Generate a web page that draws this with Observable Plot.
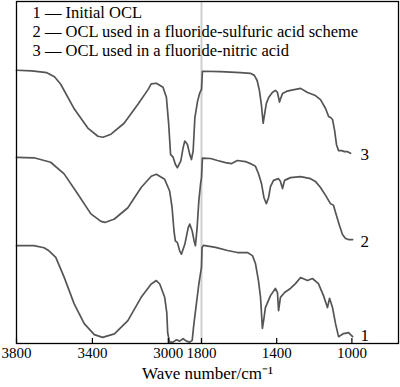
<!DOCTYPE html>
<html><head><meta charset="utf-8">
<script src="https://cdn.jsdelivr.net/npm/d3@7"></script>
<script src="https://cdn.jsdelivr.net/npm/@observablehq/plot@0.6"></script>
<style>body{margin:0;background:#fff} #chart{width:400px;height:387px}</style>
</head><body><div id="chart"></div>
<script>
// Curve 3 – OCL used in a fluoride-nitric acid scheme
const wn3 = [3800,3720,3640,3600,3567,3498,3424,3371,3344,3302,3233,3159,3106,3090,3063,3028,3010,2998,2988,2975,2963,2952,2934,2922,2913,2899,2887,2878,2869,2860,2846,2834,2825,
  1795,1699,1593,1540,1519,1504,1492,1481,1472,1463,1455,1442,1423,1407,1396,1385,1377,1369,1348,1327,1273,1236,1194,1167,1140,1124,1114,1103,1092,1082,1071,1055,1039,1023,1007];
const t3 = [79.9,79.7,79.2,78.0,75.8,68.8,63.0,60.6,60.3,61.2,64.4,70.0,74.3,75.9,76.1,74.9,72.0,64.2,55.3,54.5,52.4,51.4,53.4,57.2,59.2,58.2,55.3,53.8,56.3,66.0,70.8,73.3,74.3,
  79.6,79.5,79.2,79.0,78.4,76.9,74.0,69.6,64.4,67.5,70.2,72.0,73.4,74.0,73.4,70.6,71.9,73.1,73.7,74.0,74.6,73.4,72.5,71.3,68.7,66.4,66.1,65.5,62.3,58.2,56.4,56.4,56.1,56.1,55.6];

// Curve 2 – OCL used in a fluoride-sulfuric acid scheme
const wn2 = [3800,3708,3620,3549,3478,3408,3355,3334,3284,3213,3143,3090,3063,3019,2993,2980,2970,2963,2952,2940,2931,2913,2895,2887,2874,2864,2857,2848,2839,2830,2825,
  1795,1752,1715,1672,1640,1609,1566,1540,1513,1497,1481,1468,1455,1443,1433,1417,1390,1380,1369,1358,1327,1273,1220,1194,1167,1140,1114,1098,1082,1066,1050,1034,1018,996];
const t2 = [54.4,54.3,53.0,49.6,43.8,37.9,35.7,35.4,36.4,39.7,45.6,48.9,49.5,48.0,44.6,39.7,32.9,30.0,29.5,27.1,26.1,29.0,33.9,34.9,32.9,30.0,28.6,33.9,41.7,46.6,48.5,
  54.2,54.1,53.5,52.9,52.6,53.5,53.2,52.6,51.8,49.7,46.8,42.7,40.9,42.7,45.9,47.7,48.2,47.4,45.3,47.7,48.5,48.8,48.2,47.4,45.6,43.3,40.9,40.4,37.4,34.5,31.9,30.7,30.4,30.4];

// Curve 1 – Initial OCL
const wn1 = [3800,3708,3655,3629,3593,3549,3496,3443,3390,3346,3284,3213,3143,3090,3063,3045,3019,3008,3003,2993,2975,2957,2940,2922,2904,2887,2874,2867,2860,2851,2839,2825,
  1797,1789,1725,1661,1609,1556,1529,1513,1497,1486,1476,1468,1460,1433,1407,1396,1390,1380,1358,1327,1300,1273,1236,1210,1178,1151,1130,1119,1103,1087,1071,1044,1018,996];
const t1 = [28.6,28.6,28.0,27.1,25.2,19.4,11.6,5.8,2.6,1.8,2.8,6.7,13.5,17.4,18.4,17.4,13.5,9.0,3.0,0.4,0.4,1.1,0.7,1.4,0.7,0.4,0.9,4.8,8.0,12.0,17.4,22.3,
  28.1,28.7,28.1,27.2,26.6,26.6,25.7,23.4,18.4,13.5,4.4,7.3,10.5,14.0,16.1,14.9,9.6,13.5,14.9,16.1,17.5,19.3,18.4,19.0,17.5,14.0,10.5,13.2,10.5,5.8,2.0,2.9,3.2,2.0];

const curveIds = ["1", "2", "3"];
const legendLines = [
  "1 — Initial OCL",
  "2 — OCL used in a fluoride-sulfuric acid scheme",
  "3 — OCL used in a fluoride-nitric acid"
];
const xTicks = [3800, 3400, 3000, 1800, 1400, 1000];
const breakWn = 1800;
const axisTitle = "Wave number/cm⁻¹";
const labelWn = 954;
const labelT = [2.3, 29.8, 55.3];

const series = [[wn1, t1], [wn2, t2], [wn3, t3]];
const rows = series.flatMap(([w, t], k) => w.map((v, i) => ({curve: curveIds[k], wn: v, t: t[i]})));
const labels = curveIds.map((c, i) => ({curve: c, wn: labelWn, t: labelT[i]}));

const serif = "'Liberation Serif','Times New Roman',serif";
const chart = Plot.plot({
  width: 400,
  height: 387,
  marginLeft: 16,
  marginRight: 2,
  marginTop: 1,
  marginBottom: 44,
  style: {fontFamily: serif, fontSize: "15px", background: "#fff", color: "#000"},
  x: {type: "linear", domain: [3800, 2825, 1800, 752], range: [16, 201, 201, 398]},
  y: {domain: [0, 100], axis: null},
  marks: [
    Plot.ruleX([breakWn], {stroke: "#cfcfcf", strokeWidth: 2}),
    Plot.line(rows, {x: "wn", y: "t", z: "curve", stroke: "#555", strokeWidth: 1.7}),
    Plot.text(labels, {x: "wn", y: "t", text: "curve", textAnchor: "start", fontSize: 17, fontFamily: serif, fill: "#000"}),
    ...legendLines.map((s, i) => Plot.text([s], {frameAnchor: "top-left", text: d => d, textAnchor: "start", lineAnchor: "bottom", dx: 16, dy: 16.5 + 19 * i, fontSize: 16.5, fontFamily: serif, fill: "#000"})),
    Plot.ruleX(xTicks, {insetTop: 337, stroke: "#000", strokeWidth: 1.2}),
    Plot.axisX(xTicks, {tickSize: 0, tickPadding: 4, tickFormat: d => String(d), label: null, fontSize: 15, fontFamily: serif}),
    Plot.text([axisTitle], {frameAnchor: "bottom", text: d => d, lineAnchor: "bottom", dy: 35, fontSize: 17, fontFamily: serif, fill: "#000"}),
    Plot.frame({stroke: "#000", strokeWidth: 1.3})
  ]
});
document.getElementById("chart").append(chart);
</script>
</body></html>
